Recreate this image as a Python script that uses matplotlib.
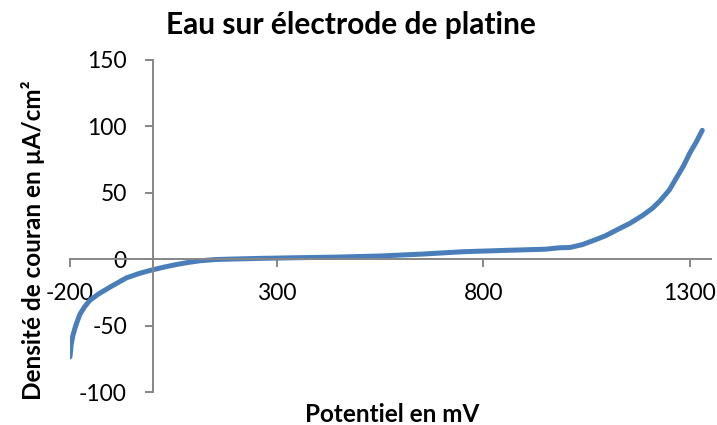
import numpy as np
import matplotlib
matplotlib.use("Agg")
import matplotlib.pyplot as plt

plt.rcParams['font.family'] = ['Lato', 'DejaVu Sans']
plt.rcParams['axes.unicode_minus'] = False

# potentiel (mV) et densité de courant (µA/cm²)
potentiel = [-200, -197, -193, -188, -182, -176, -165, -152, -130, -103, -63,
             -30, 0, 30, 58, 85, 114, 150, 180, 260, 350, 450, 550, 650, 750,
             850, 950, 985, 1010, 1040, 1066, 1095, 1123, 1155, 1186, 1210,
             1228, 1250, 1269, 1285, 1300, 1315, 1330]
densite = [-73.5, -64, -57.5, -52, -46.5, -41.5, -36, -31, -26, -21, -14,
           -10.5, -8, -5.8, -4, -2.5, -1.2, -0.3, 0, 0.6, 1.1, 1.6, 2.4, 3.8, 5.6,
           6.6, 7.5, 8.6, 8.8, 11, 14, 17.5, 22, 27, 33, 38.5,
           44, 52, 62, 70.5, 80, 88, 97]

xticks = [-200, 300, 800, 1300]
yticks = [-100, -50, 0, 50, 100, 150]

fig = plt.figure(figsize=(7.17, 4.25), dpi=100)
ax = fig.add_axes([0.0976, 0.0776, 0.8934, 0.7814])

ax.plot(potentiel, densite, color='#4A7EBB', lw=3.6, solid_capstyle='round')

ax.set_xlim(-200, 1350)
ax.set_ylim(-100, 150)
ax.set_xticks(xticks)
ax.set_yticks(yticks)

gris = '#868686'
for s in ['top', 'right']:
    ax.spines[s].set_visible(False)
ax.spines['left'].set_position(('data', 0))
ax.spines['bottom'].set_position(('data', 0))
ax.spines['left'].set_color(gris)
ax.spines['bottom'].set_color(gris)
ax.spines['left'].set_linewidth(1.4)
ax.spines['bottom'].set_linewidth(1.4)
ax.tick_params(axis='both', colors=gris, width=1.4, length=5.5,
               labelsize=16.5, labelcolor='black', direction='out')
ax.tick_params(axis='x', pad=12)
ax.tick_params(axis='y', pad=13)

fig.text(0.490, 0.919, "Eau sur électrode de platine", ha='center',
         va='baseline', fontsize=21.5, fontweight='bold')
fig.text(0.547, 0.008, "Potentiel en mV", ha='center', va='baseline',
         fontsize=17.5, fontweight='bold')
fig.text(0.046, 0.435, "Densité de couran en µA/cm²", ha='center', va='center',
         rotation=90, fontsize=17.5, fontweight='bold')

fig.savefig("out.png", dpi=100)
